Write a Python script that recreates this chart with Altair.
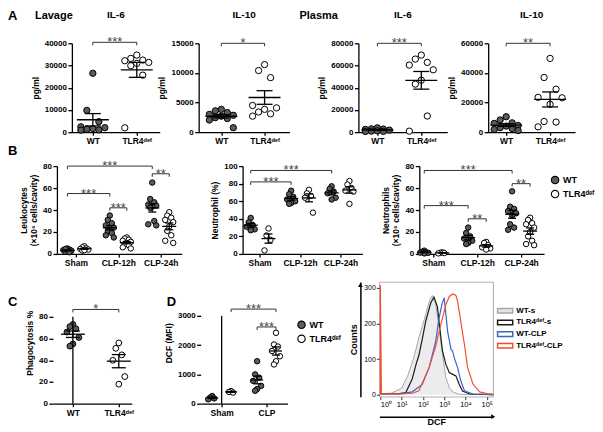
import altair as alt
import pandas as pd

FONT = "Liberation Sans"
GENOS = ["WT", "TLR4ᵈᵉᶠ"]
GENO_FILL = ["#5c5c5c", "#ffffff"]
GROUPS_B = ["Sham", "CLP-12h", "CLP-24h"]
GROUPS_D = ["Sham", "CLP"]

# ---------------- A: cytokines (pg/ml) ----------------
lav_il6_wt = [26500, 9800, 4700, 2400, 2000, 1600, 1300, 1000, 900]
lav_il6_tl = [34700, 33200, 32450, 32150, 31400, 30950, 29900, 25660, 1960]
lav_il10_wt = [3850, 3600, 3300, 3000, 2850, 2700, 2450, 2300, 2050, 750]
lav_il10_tl = [11400, 10400, 9200, 4500, 4100, 3850, 3400, 3100, 2700]
pla_il6_wt = [3900, 3000, 2800, 2500, 1800, 1200, 900, 700, 600]
pla_il6_tl = [69400, 65800, 62800, 60400, 56150, 46800, 43200, 14500, 900]
pla_il10_wt = [10400, 8200, 6300, 5900, 4500, 4100, 3000, 2400, 1800, 1100]
pla_il10_tl = [49800, 36900, 29000, 23500, 23200, 18800, 7200, 6800, 3600]

# ---------------- B: cell counts ----------------
leuko_wt = [[5, 4, 3.5, 3, 2.5, 2, 1.5, 4.5],
            [35, 31, 28, 26, 24, 22, 21, 19, 17, 15],
            [65, 50, 47, 45, 44, 43, 42, 30, 27, 26]]
leuko_tl = [[7, 6, 5, 4.5, 4, 3, 3.5],
            [15, 14, 13, 12, 11, 10, 9, 8, 6, 5],
            [38, 35, 33, 31, 29, 25, 21, 17, 12, 10]]
neupct_wt = [[41, 36, 33, 31, 28, 27], [72, 68, 65, 62, 60, 58, 57], [77, 74, 71, 69, 64, 62]]
neupct_tl = [[29, 21, 16, 4], [73, 69, 66, 64, 47], [83, 79, 75, 72, 71, 57]]
neu_wt = [[3, 2, 1.5, 1, 0.5, 1.2], [24, 19, 16, 14, 12, 10, 9], [57, 43, 41, 39, 37, 35, 27, 24, 22]]
neu_tl = [[1.5, 1, 0.8, 0.5], [11, 10, 8, 6, 5, 4], [33, 31, 28, 27, 24, 20, 16, 12, 9, 8]]

# ---------------- C / D ----------------
phago_wt = [73, 71, 69, 66, 61, 55, 53]
phago_tl = [56, 51, 45, 40, 25, 18]
dcf_wt = [[260, 210, 150, 180], [1450, 1000, 890, 780, 610, 500, 440]]
dcf_tl = [[430, 400, 380], [2420, 2020, 1950, 1800, 1620, 1450, 1340]]

# significance brackets: (group, genotype index) -> (group, genotype index), height, label
sig_b1 = [(("Sham", 0), ("CLP-24h", 0), 80, "***"), (("Sham", 0), ("CLP-12h", 0), 55, "***"),
          (("CLP-12h", 0), ("CLP-12h", 1), 42, "***"), (("CLP-24h", 0), ("CLP-24h", 1), 73, "**")]
sig_b2 = [(("Sham", 0), ("CLP-24h", 0), 95, "***"), (("Sham", 0), ("CLP-12h", 0), 82, "***")]
sig_b3 = [(("Sham", 0), ("CLP-24h", 0), 76, "***"), (("Sham", 0), ("CLP-12h", 0), 44, "***"),
          (("CLP-12h", 0), ("CLP-12h", 1), 32, "**"), (("CLP-24h", 0), ("CLP-24h", 1), 64, "**")]
sig_d = [(("Sham", 1), ("CLP", 1), 3230, "***"), (("CLP", 0), ("CLP", 1), 2620, "***")]

# ---------------- histogram (log10 DCF, counts) ----------------
HIST_SERIES = ["WT-s", "TLR4ᵈᵉᶠ-s", "WT-CLP", "TLR4ᵈᵉᶠ-CLP"]
HIST_COLORS = ["#a8a8a8", "#1a1a1a", "#3c64c8", "#f0502d"]
hist_logx = {
    "WT-s": [0.0, 0.5, 1.0, 1.3, 1.6, 1.81, 1.95, 2.13, 2.3, 2.44, 2.6, 2.76, 2.92, 3.08, 3.24, 3.4, 3.7, 5.3],
    "TLR4ᵈᵉᶠ-s": [0.0, 0.9, 1.2, 1.5, 1.7, 1.81, 2.0, 2.13, 2.37, 2.52, 2.68, 2.79, 2.92, 3.08, 3.24, 3.4,
                  3.55, 3.7, 3.86, 4.2, 5.3],
    "WT-CLP": [0.0, 1.0, 1.5, 1.97, 2.29, 2.6, 2.76, 2.9, 3.0, 3.08, 3.16, 3.32, 3.4, 3.47, 3.63, 3.78, 3.95,
               4.35, 5.3],
    "TLR4ᵈᵉᶠ-CLP": [0.0, 0.0, 0.05, 1.0, 1.5, 1.81, 2.29, 2.6, 2.84, 3.08, 3.24, 3.4, 3.55, 3.63, 3.78, 3.95,
                    4.1, 4.35, 4.67, 5.0, 5.3],
}
hist_counts = {
    "WT-s": [3, 4, 18, 55, 110, 160, 188, 225, 262, 279, 255, 188, 113, 48, 20, 8, 1, 0],
    "TLR4ᵈᵉᶠ-s": [3, 3, 6, 45, 90, 110, 165, 206, 258, 274, 247, 188, 122, 85, 62, 57, 53, 30, 10, 2, 0],
    "WT-CLP": [2, 3, 8, 29, 76, 150, 216, 255, 272, 225, 178, 127, 122, 104, 76, 39, 11, 2, 0],
    "TLR4ᵈᵉᶠ-CLP": [0, 308, 3, 2, 4, 11, 76, 136, 197, 253, 276, 283, 279, 262, 206, 141, 76, 30, 8, 3, 2],
}


def df_two(wt, tl):
    rows = [{"geno": GENOS[0], "xc": 0.0, "value": v} for v in wt]
    rows += [{"geno": GENOS[1], "xc": 1.0, "value": v} for v in tl]
    return pd.DataFrame(rows)


def df_grouped(groups, wt, tl, off):
    rows = []
    for gi, _ in enumerate(groups):
        for k, vals in enumerate((wt[gi], tl[gi])):
            for v in vals:
                rows.append({"geno": GENOS[k], "xc": gi + (2 * k - 1) * off, "value": v})
    return pd.DataFrame(rows)


def sig_grouped(groups, sigs, off):
    def pos(a):
        return groups.index(a[0]) + (2 * a[1] - 1) * off
    return pd.DataFrame([{"x1": pos(a), "x2": pos(b), "y": y, "lab": lab} for a, b, y, lab in sigs])


def sig_two(y, lab):
    return pd.DataFrame([{"x1": 0.0, "x2": 1.0, "y": y, "lab": lab}])


def note(txt, x, y, fs, align="left"):
    return alt.Chart(pd.DataFrame({"t": [txt]})).mark_text(
        align=align, baseline="top", fontSize=fs, fontWeight="bold", font=FONT, color="black"
    ).encode(text="t:N", x=alt.value(x), y=alt.value(y))


def dot_panel(df, brs, xdom, xticks, xlabels, ydom, yvals, ytitle, width, height,
              mean_px, cap_px, jit_px, size, title=None, notes=(), axis_top=None, title_y=-33):
    ppx = width / (xdom[1] - xdom[0])
    ppy = height / (ydom[1] - ydom[0])
    xs = alt.Scale(domain=list(xdom), nice=False, zero=False)
    ys = alt.Scale(domain=list(ydom), nice=False, zero=False)
    lab_expr = ("[" + ",".join(f"'{l}'" for l in xlabels) + "][indexof(["
                + ",".join(str(t) for t in xticks) + "], datum.value)]")
    xaxis = alt.Axis(values=list(xticks), labelExpr=lab_expr, title=None, tickSize=3)
    yaxis = alt.Axis(values=list(yvals), title=ytitle, format="d", domain=axis_top is None)
    jexpr = f"datum.xc + [0,-1,1,-2,2][(datum.rn - 1) % 5] * {jit_px / ppx:.4f}"
    pts = (alt.Chart(df)
           .transform_window(rn="row_number()", groupby=["geno", "xc"],
                             sort=[alt.SortField("value", order="descending")])
           .transform_calculate(xj=jexpr)
           .mark_circle(size=size, stroke="black", strokeWidth=1, opacity=1)
           .encode(x=alt.X("xj:Q", scale=xs, axis=xaxis),
                   y=alt.Y("value:Q", scale=ys, axis=yaxis),
                   fill=alt.Fill("geno:N", scale=alt.Scale(domain=GENOS, range=GENO_FILL), legend=None)))
    hw = mean_px / 2 / ppx
    cw = cap_px / 2 / ppx
    st = (alt.Chart(df)
          .transform_aggregate(m="mean(value)", sd="stdev(value)", n="count()", groupby=["geno", "xc"])
          .transform_calculate(se="datum.sd / sqrt(datum.n)")
          .transform_calculate(lo="datum.m - datum.se", hi="datum.m + datum.se",
                               ml=f"datum.xc - {hw:.4f}", mr=f"datum.xc + {hw:.4f}",
                               cl=f"datum.xc - {cw:.4f}", cr=f"datum.xc + {cw:.4f}"))
    lk = dict(color="black", strokeWidth=1.3)
    mean = st.mark_rule(**lk).encode(x=alt.X("ml:Q", scale=xs, axis=None), x2="mr:Q",
                                      y=alt.Y("m:Q", scale=ys, axis=None))
    vert = st.mark_rule(**lk).encode(x=alt.X("xc:Q", scale=xs, axis=None),
                                      y=alt.Y("lo:Q", scale=ys, axis=None), y2="hi:Q")
    caph = st.mark_rule(**lk).encode(x=alt.X("cl:Q", scale=xs, axis=None), x2="cr:Q",
                                      y=alt.Y("hi:Q", scale=ys, axis=None))
    capl = st.mark_rule(**lk).encode(x=alt.X("cl:Q", scale=xs, axis=None), x2="cr:Q",
                                      y=alt.Y("lo:Q", scale=ys, axis=None))
    bt = 3 / ppy
    bb = alt.Chart(brs).transform_calculate(xm="(datum.x1 + datum.x2) / 2", yd=f"datum.y - {bt:.6f}")
    bk = dict(color="#333333", strokeWidth=1)
    br_h = bb.mark_rule(**bk).encode(x=alt.X("x1:Q", scale=xs, axis=None), x2="x2:Q",
                                      y=alt.Y("y:Q", scale=ys, axis=None))
    br_l = bb.mark_rule(**bk).encode(x=alt.X("x1:Q", scale=xs, axis=None),
                                      y=alt.Y("yd:Q", scale=ys, axis=None), y2="y:Q")
    br_r = bb.mark_rule(**bk).encode(x=alt.X("x2:Q", scale=xs, axis=None),
                                      y=alt.Y("yd:Q", scale=ys, axis=None), y2="y:Q")
    br_t = bb.mark_text(baseline="alphabetic", dy=4, fontSize=13, color="#444444", font=FONT).encode(
        x=alt.X("xm:Q", scale=xs, axis=None), y=alt.Y("y:Q", scale=ys, axis=None), text="lab:N")
    layers = [pts, mean, vert, caph, capl, br_h, br_l, br_r, br_t]
    if axis_top is not None:
        ax = alt.Chart(pd.DataFrame({"a": [ydom[0]], "b": [axis_top]})).mark_rule(
            color="black", strokeWidth=1.3).encode(
            x=alt.X("a:Q", scale=xs, axis=None), y=alt.Y("a:Q", scale=ys, axis=None), y2="b:Q")
        layers.append(ax)
    if title:
        layers.append(note(title, width / 2, title_y, 10, align="center"))
    layers += list(notes)
    return (alt.layer(*layers)
            .resolve_axis(x="independent", y="independent")
            .properties(width=width, height=height))


def spacer(w, h=1):
    return alt.Chart(pd.DataFrame({"v": [0]})).mark_point(opacity=0).encode(
        x=alt.X("v:Q", axis=None), y=alt.Y("v:Q", axis=None)).properties(width=w, height=h)


def geno_legend(width, height, y0, y1):
    d = pd.DataFrame({"geno": GENOS})
    ys = alt.Scale(domain=GENOS, range=[y0, y1], padding=0)
    sym = alt.Chart(d).mark_circle(size=55, stroke="black", strokeWidth=1.1, opacity=1).encode(
        x=alt.value(6), y=alt.Y("geno:N", scale=ys, axis=None),
        fill=alt.Fill("geno:N", scale=alt.Scale(domain=GENOS, range=GENO_FILL), legend=None))
    txt = alt.Chart(d).mark_text(align="left", baseline="middle", fontSize=9, fontWeight="bold",
                                 font=FONT, color="black").encode(
        x=alt.value(14), y=alt.Y("geno:N", scale=ys, axis=None), text="geno:N")
    return alt.layer(sym, txt).properties(width=width, height=height)


# ---------------- row A ----------------
A1 = dot_panel(df_two(lav_il6_wt, lav_il6_tl), sig_two(40450, "***"), (-0.477, 1.523), [0, 1], GENOS,
               (0, 40000), [0, 10000, 20000, 30000, 40000], "pg/ml", 88, 89, 32, 16, 6, 40, title="IL-6",
               notes=[note("A", -64, -33, 13), note("Lavage", -37, -33, 11)])
A2 = dot_panel(df_two(lav_il10_wt, lav_il10_tl), sig_two(15000, "*"), (-0.524, 1.577), [0, 1], GENOS,
               (0, 15000), [0, 5000, 10000, 15000], "pg/ml", 91, 89, 32, 16, 6, 40, title="IL-10")
A3 = dot_panel(df_two(pla_il6_wt, pla_il6_tl), sig_two(80000, "***"), (-0.432, 1.591), [0, 1], GENOS,
               (0, 80000), [0, 20000, 40000, 60000, 80000], "pg/ml", 89, 89, 32, 16, 6, 40, title="IL-6",
               notes=[note("Plasma", -59, -33, 11)])
A4 = dot_panel(df_two(pla_il10_wt, pla_il10_tl), sig_two(60000, "**"), (-0.409, 1.568), [0, 1], GENOS,
               (0, 60000), [0, 20000, 40000, 60000], "pg/ml", 87, 89, 32, 16, 6, 40, title="IL-10")
rowA = alt.hconcat(spacer(20), A1, spacer(39), A2, spacer(69), A3, spacer(41), A4,
                   spacing=0, bounds="flush")

# ---------------- row B ----------------
B1 = dot_panel(df_grouped(GROUPS_B, leuko_wt, leuko_tl, 0.2), sig_grouped(GROUPS_B, sig_b1, 0.2),
               (-0.447, 2.494), [0, 1, 2], GROUPS_B, (0, 80), [0, 20, 40, 60, 80],
               ["Leukocytes", "(×10⁶ cells/cavity)"], 125, 88, 14, 8, 2, 30,
               notes=[note("B", -49, -21, 13)])
B2 = dot_panel(df_grouped(GROUPS_B, neupct_wt, neupct_tl, 0.22), sig_grouped(GROUPS_B, sig_b2, 0.22),
               (-0.42, 2.54), [0, 1, 2], GROUPS_B, (0, 100), [0, 20, 40, 60, 80, 100],
               "Neutrophil (%)", 120, 88, 14, 8, 2, 30)
B3 = dot_panel(df_grouped(GROUPS_B, neu_wt, neu_tl, 0.205), sig_grouped(GROUPS_B, sig_b3, 0.205),
               (-0.318, 2.523), [0, 1, 2], GROUPS_B, (0, 80), [0, 20, 40, 60, 80],
               ["Neutrophils", "(×10⁶ cells/cavity)"], 125, 88, 14, 8, 2, 30)
rowB = alt.hconcat(spacer(5), B1, spacer(61), B2, spacer(57), B3, spacer(5), geno_legend(45, 40, 14, 28),
                   spacing=0, bounds="flush")

# ---------------- row C ----------------
C = dot_panel(df_two(phago_wt, phago_tl), sig_two(86.8, "*"), (-0.435, 1.283), [0, 1], GENOS,
              (0, 112.2), [0, 20, 40, 60, 80], "Phagocytosis %", 79, 122, 24, 14, 3, 34,
              axis_top=80, notes=[note("C", -45, 14, 13)])
D = dot_panel(df_grouped(GROUPS_D, dcf_wt, dcf_tl, 0.21), sig_grouped(GROUPS_D, sig_d, 0.21),
              (-0.467, 1.467), [0, 1], GROUPS_D, (0, 4159), [0, 1000, 2000, 3000], "DCF (MFI)",
              87, 122, 12, 8, 2, 30, axis_top=3000, notes=[note("D", -34, 14, 13)])

hist_rows = []
for s in HIST_SERIES:
    for dd, cc in zip(hist_logx[s], hist_counts[s]):
        hist_rows.append({"series": s, "d": dd, "c": cc})
hdf = pd.DataFrame(hist_rows)
HX = alt.Scale(type="log", domain=[0.9, 200000], nice=False)
HY = alt.Scale(domain=[-5.6, 316.8], nice=False, zero=False)
STROKE = alt.Scale(domain=HIST_SERIES, range=HIST_COLORS)
hbase = (alt.Chart(hdf)
         .transform_window(idx="row_number()", groupby=["series"])
         .transform_calculate(xv="pow(10, datum.d)"))
hlab = "'10' + ['⁰','¹','²','³','⁴','⁵'][round(log(datum.value) / LN10)]"
h_area = hbase.transform_filter(alt.datum.series == HIST_SERIES[0]).mark_area(
    color="#e4e4e8", line=alt.OverlayMarkDef(color="#a8a8a8", strokeWidth=1)).encode(
    x=alt.X("xv:Q", scale=HX, axis=alt.Axis(values=[1, 10, 100, 1000, 10000, 100000], labelExpr=hlab,
                                            title=None, domain=False, tickSize=3, tickWidth=0.8,
                                            labelFontWeight="normal", labelFontSize=7.5, labelPadding=1)),
    y=alt.Y("c:Q", scale=HY, axis=alt.Axis(values=[0, 100, 200, 300], title=None, domain=False,
                                           tickSize=3, tickWidth=0.8, labelFontWeight="normal",
                                           labelFontSize=7, labelPadding=1)))
h_lines = hbase.transform_filter(alt.FieldOneOfPredicate(field="series", oneOf=HIST_SERIES[1:])).mark_line(
    strokeWidth=1.2).encode(
    x=alt.X("xv:Q", scale=HX, axis=alt.Axis(orient="bottom", offset=20, labels=False, ticks=False,
                                            domain=True, domainWidth=1.5, title="DCF", titlePadding=1,
                                            titleFontSize=9)),
    y=alt.Y("c:Q", scale=HY, axis=alt.Axis(orient="left", offset=19, labels=False, ticks=False,
                                           domain=True, domainWidth=1.5, title="Counts", titlePadding=2,
                                           titleFontSize=9)),
    stroke=alt.Stroke("series:N", scale=STROKE, legend=None),
    order="idx:Q")
# arrowheads on the two outer axis lines
arrow_df = pd.DataFrame({"k": ["up", "right"]})
h_arrow_up = alt.Chart(arrow_df).transform_filter(alt.datum.k == "up").mark_point(
    shape="triangle-up", size=22, filled=True, color="black", opacity=1).encode(
    x=alt.value(-19), y=alt.value(3))
h_arrow_rt = alt.Chart(arrow_df).transform_filter(alt.datum.k == "right").mark_point(
    shape="triangle-right", size=22, filled=True, color="black", opacity=1).encode(
    x=alt.value(114), y=alt.value(135))
hist = (alt.layer(h_area, h_lines, h_arrow_up, h_arrow_rt)
        .resolve_axis(x="independent", y="independent")
        .properties(width=114, height=115, view=alt.ViewBackground(stroke="#9a9a9a", strokeWidth=0.8)))

hl_df = pd.DataFrame({"series": HIST_SERIES})
HLY = alt.Scale(domain=HIST_SERIES, range=[29, 64], padding=0)
hl_sym = alt.Chart(hl_df).mark_point(shape="M-1,-0.3H1V0.3H-1Z", size=230, strokeWidth=1.5,
                                     opacity=1, filled=False).encode(
    x=alt.value(10), y=alt.Y("series:N", scale=HLY, axis=None),
    stroke=alt.Stroke("series:N", scale=STROKE, legend=None),
    fill=alt.condition(alt.datum.series == HIST_SERIES[0], alt.value("#e4e4e8"), alt.value("white")))
hl_txt = alt.Chart(hl_df).mark_text(align="left", baseline="middle", fontSize=8, fontWeight="bold",
                                    font=FONT, color="black").encode(
    x=alt.value(21), y=alt.Y("series:N", scale=HLY, axis=None), text="series:N")
hist_legend = alt.layer(hl_sym, hl_txt).properties(width=70, height=80)

rowC = alt.hconcat(spacer(1), C, spacer(69), D, spacer(8), geno_legend(40, 70, 43, 57), spacer(44), hist,
                   spacer(2), hist_legend, spacing=0, bounds="flush")

chart = (alt.vconcat(rowA, rowB, spacer(1, 12), rowC, spacing=0)
         .properties(padding={"left": 0, "top": 2, "right": 0, "bottom": 0})
         .configure_view(stroke=None)
         .configure_axis(labelFont=FONT, titleFont=FONT, labelFontWeight="bold", titleFontWeight="bold",
                         labelFontSize=8, titleFontSize=8.5, labelColor="black", titleColor="black",
                         domainColor="black", domainWidth=1.3, tickColor="black", tickWidth=1.3,
                         tickSize=4, grid=False, labelPadding=1.5, titlePadding=4)
         .configure_axisX(labelFontSize=8.5, labelAngle=0))

chart.save("out.html", embed_options={"renderer": "svg", "actions": False})
